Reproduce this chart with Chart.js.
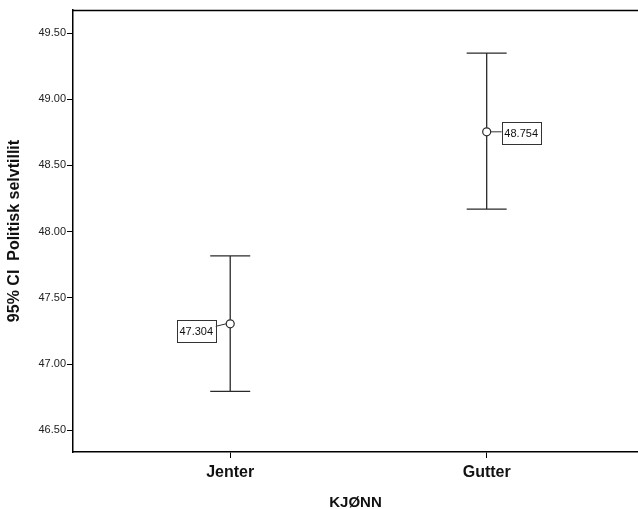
<!DOCTYPE html>
<html>
<head>
<meta charset="utf-8">
<script src="https://cdn.jsdelivr.net/npm/chart.js@4.4.1/dist/chart.umd.min.js"></script>
<style>
  html, body { margin: 0; padding: 0; background: #fff; overflow: hidden; }
  #wrap { width: 638px; height: 509px; }
  canvas { display: block; }
</style>
</head>
<body>
<div id="wrap"><canvas id="ciChart"></canvas></div>
<script>
// --- data ---
const categories = ['Jenter', 'Gutter'];
const means = [47.304, 48.754];
const upperCI = [47.817, 49.349];
const lowerCI = [46.794, 48.170];
const yTicks = [46.5, 47.0, 47.5, 48.0, 48.5, 49.0, 49.5];

const FONT = 'Arial, "Liberation Sans", sans-serif';
const LINE = '#2a2a2a';

// error bars, the top frame line and the value boxes
const errorBarPlugin = {
    id: 'errorBars',
    afterDatasetsDraw(chart) {
        const ctx = chart.ctx;
        const xs = chart.scales.x;
        const ys = chart.scales.y;
        const area = chart.chartArea;

        ctx.save();
        // top frame line
        ctx.strokeStyle = '#000';
        ctx.lineWidth = 1.5;
        ctx.beginPath();
        ctx.moveTo(area.left, area.top + 0.5);
        ctx.lineTo(chart.width, area.top + 0.5);
        ctx.stroke();

        ctx.strokeStyle = LINE;
        ctx.lineWidth = 1.3;
        categories.forEach((c, i) => {
            const x = xs.getPixelForValue(i);
            const yHi = ys.getPixelForValue(upperCI[i]);
            const yLo = ys.getPixelForValue(lowerCI[i]);
            const yM = ys.getPixelForValue(means[i]);
            ctx.beginPath();
            ctx.moveTo(x, yHi); ctx.lineTo(x, yM - 4);
            ctx.moveTo(x, yM + 4); ctx.lineTo(x, yLo);
            ctx.moveTo(x - 20, yHi); ctx.lineTo(x + 20, yHi);
            ctx.moveTo(x - 20, yLo); ctx.lineTo(x + 20, yLo);
            ctx.stroke();
        });

        // value labels in boxes
        const offsets = [{ dx: -34, dy: 7.5 }, { dx: 34.5, dy: 1 }];
        ctx.font = '11px ' + FONT;
        ctx.textAlign = 'center';
        ctx.textBaseline = 'middle';
        categories.forEach((c, i) => {
            const x = xs.getPixelForValue(i);
            const y = ys.getPixelForValue(means[i]);
            const txt = means[i].toFixed(3);
            const bx = x + offsets[i].dx;
            const by = y + offsets[i].dy;
            const w = 39, h = 22;
            ctx.fillStyle = '#fff';
            ctx.fillRect(bx - w / 2, by - h / 2, w, h);
            ctx.strokeStyle = '#333';
            ctx.lineWidth = 1;
            ctx.strokeRect(Math.round(bx - w / 2) + 0.5, Math.round(by - h / 2) + 0.5, w, h);
            // leader line
            ctx.beginPath();
            if (offsets[i].dx < 0) {
                ctx.moveTo(bx + w / 2, by - 5);
                ctx.lineTo(x - 4, y);
            } else {
                ctx.moveTo(x + 4, y);
                ctx.lineTo(bx - w / 2, by - 1);
            }
            ctx.stroke();
            ctx.fillStyle = '#111';
            ctx.fillText(txt, bx, by + 1);
        });
        ctx.restore();
    }
};

new Chart(document.getElementById('ciChart'), {
    type: 'scatter',
    data: {
        datasets: [{
            data: means.map((m, i) => ({ x: i, y: m })),
            pointStyle: 'circle',
            pointRadius: 4,
            pointBorderWidth: 1.2,
            borderColor: LINE,
            backgroundColor: 'rgba(0,0,0,0)',
            pointHoverRadius: 4
        }]
    },
    options: {
        responsive: true,
        maintainAspectRatio: false,
        animation: false,
        layout: { autoPadding: false, padding: { top: 10, right: 0, left: 0, bottom: 0 } },
        plugins: {
            legend: { display: false },
            tooltip: { enabled: false }
        },
        scales: {
            x: {
                type: 'linear',
                min: -0.613,
                max: 1.59,
                afterBuildTicks: scale => { scale.ticks = categories.map((c, i) => ({ value: i })); },
                afterFit: scale => {
                    scale.height = 57;
                    scale.paddingLeft = 0;
                    scale.paddingRight = 0;
                },
                grid: { drawOnChartArea: false, tickLength: 6, tickColor: '#000', tickWidth: 1 },
                border: { color: '#000', width: 1.5 },
                ticks: {
                    padding: 5,
                    color: '#111',
                    font: { family: FONT, size: 16, weight: 'bold' },
                    callback: v => categories[v]
                },
                title: {
                    display: true,
                    text: 'KJØNN',
                    color: '#111',
                    padding: { top: 10, bottom: -1 },
                    font: { family: FONT, size: 15, weight: 'bold', lineHeight: 1 }
                }
            },
            y: {
                min: 46.336,
                max: 49.674,
                afterBuildTicks: scale => { scale.ticks = yTicks.map(v => ({ value: v })); },
                afterFit: scale => { scale.width = 73; },
                grid: { drawOnChartArea: false, tickLength: 6, tickColor: '#000', tickWidth: 1 },
                border: { color: '#000', width: 1.5 },
                ticks: {
                    padding: 1,
                    color: '#222',
                    font: { family: FONT, size: 11 },
                    callback: v => v.toFixed(2)
                },
                title: {
                    display: true,
                    text: '95% CI  Politisk selvtillit',
                    color: '#111',
                    padding: { top: 5, bottom: 0 },
                    font: { family: FONT, size: 16, weight: 'bold' }
                }
            }
        }
    },
    plugins: [errorBarPlugin]
});
</script>
</body>
</html>
